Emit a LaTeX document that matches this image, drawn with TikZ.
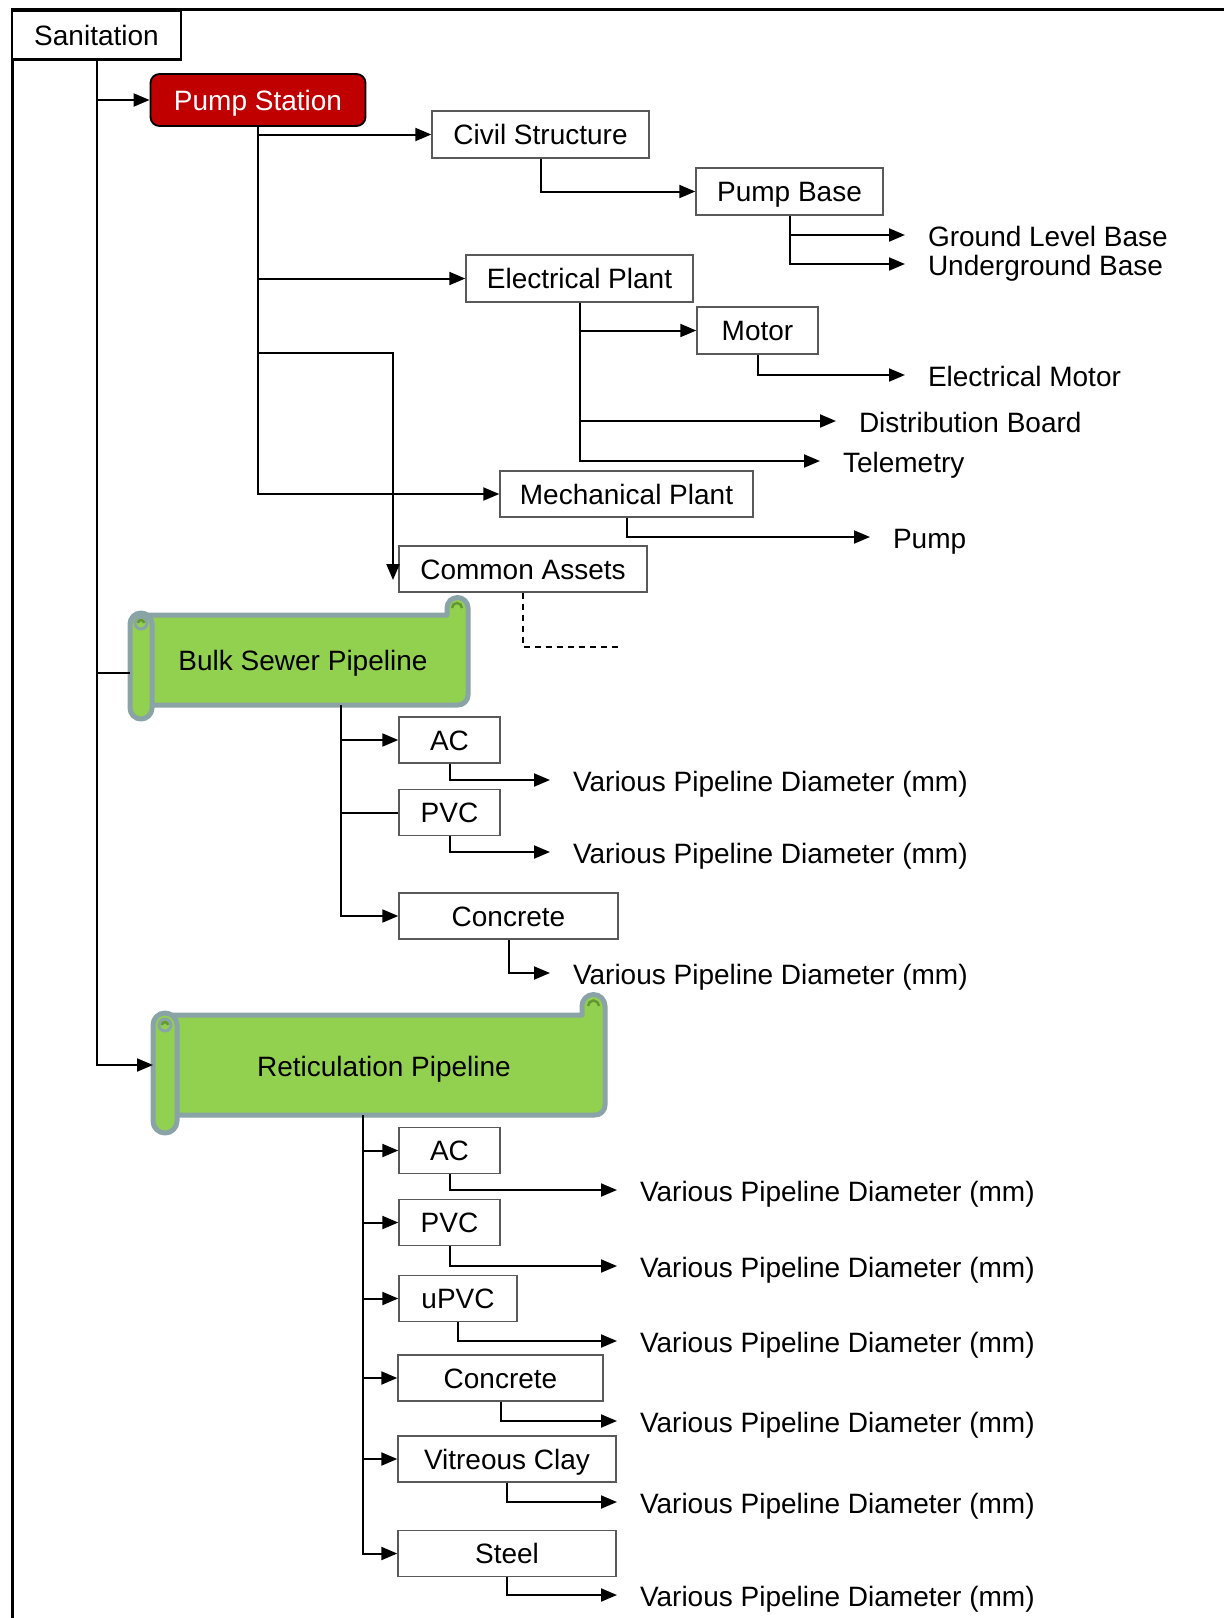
\documentclass[tikz,border=0pt]{standalone}
\usepackage{fontspec}
\setmainfont{Liberation Sans}
\usetikzlibrary{arrows.meta}
\definecolor{psred}{RGB}{192,0,0}
\definecolor{scrollgreen}{RGB}{146,208,80}
\definecolor{scrollrim}{RGB}{138,163,166}
\definecolor{curlgreen}{RGB}{100,150,50}
\begin{document}
\begin{tikzpicture}[x=1pt,y=-1pt,line width=2pt,
  every node/.style={font=\fontsize{28}{33}\selectfont},
  box/.style={draw=black!65,line width=1.4pt,fill=white,inner sep=0pt,minimum height=46pt,text height=20pt,text depth=0pt},
  leaf/.style={anchor=west,inner xsep=22pt,inner ysep=0pt,text height=22pt,text depth=0pt},
  arr/.style={-{Triangle[length=16pt,width=13pt]}},
  scroll/.style={draw=scrollrim,line width=5pt,fill=scrollgreen,line join=round},
  curl/.style={draw=curlgreen,line width=2.5pt}]
\useasboundingbox (0,0) rectangle (1224,1618);
\draw [line width=3pt] (12,1618)--(12,9)--(1224,9);
\draw [scroll] (141,615)--(447,615)--(447,608) arc[start angle=180,end angle=360,radius=10.5]--(468,695) arc[start angle=0,end angle=90,radius=10]--(141,705)--cycle;
\draw [scroll] (130,624)--(130,708) arc[start angle=180,end angle=0,radius=11]--(152,624) arc[start angle=0,end angle=-180,radius=11]--cycle;
\draw [scrollrim,line width=3pt] (141,623) circle[radius=6];
\draw [curl] (452,608) arc[start angle=180,end angle=360,radius=5];
\draw [curl] (138,623) arc[start angle=180,end angle=360,radius=3];
\draw [scroll] (165,1015)--(582,1015)--(582,1006) arc[start angle=180,end angle=360,radius=11.5]--(605,1105) arc[start angle=0,end angle=90,radius=10]--(165,1115)--cycle;
\draw [scroll] (153,1025)--(153,1121) arc[start angle=180,end angle=0,radius=12]--(177,1025) arc[start angle=0,end angle=-180,radius=12]--cycle;
\draw [scrollrim,line width=3pt] (165,1025) circle[radius=6];
\draw [curl] (588,1006) arc[start angle=180,end angle=360,radius=5.5];
\draw [curl] (162,1025) arc[start angle=180,end angle=360,radius=3];
\node [box,draw=black,line width=2.5pt,minimum width=169pt,minimum height=49pt] (san) at (96.5,35) {Sanitation};
\node [box,draw=black,line width=1.8pt,fill=psred,text=white,rounded corners=9pt,minimum width=215pt,minimum height=52pt] (ps) at (258,100) {Pump Station};
\node [box,minimum width=217pt,minimum height=47pt] (cs) at (540.5,134.5) {Civil Structure};
\node [box,minimum width=187pt,minimum height=47pt] (pb) at (789.5,191.5) {Pump Base};
\node [box,minimum width=227pt,minimum height=47pt] (ep) at (579.5,278.5) {Electrical Plant};
\node [box,minimum width=121pt,minimum height=47pt] (mot) at (757.5,330.5) {Motor};
\node [box,minimum width=253pt] (mp) at (626.5,494) {Mechanical Plant};
\node [box,minimum width=248pt] (ca) at (523,569) {Common Assets};
\node [leaf] (glb) at (905,235) {Ground Level Base};
\node [leaf] (ugb) at (905,264) {Underground Base};
\node [leaf] (em) at (905,375) {Electrical Motor};
\node [leaf] (db) at (836,421) {Distribution Board};
\node [leaf] (tel) at (820,461) {Telemetry};
\node [leaf] (pump) at (870,537) {Pump};
\node [text height=20pt,text depth=0pt] (bsp) at (303,660) {Bulk Sewer Pipeline};
\node [box,minimum width=101pt] (bac) at (449.5,740) {AC};
\node [box,minimum width=101pt] (bpvc) at (449.5,812.5) {PVC};
\node [box,minimum width=219pt] (bcon) at (508.5,916) {Concrete};
\node [leaf] (bacd) at (550,780) {Various Pipeline Diameter (mm)};
\node [leaf] (bpvcd) at (550,852) {Various Pipeline Diameter (mm)};
\node [leaf] (bcond) at (550,973) {Various Pipeline Diameter (mm)};
\node [text height=20pt,text depth=0pt] (rp) at (384,1066) {Reticulation Pipeline};
\node [box,minimum width=101pt] (rac) at (449.5,1150.5) {AC};
\node [box,minimum width=101pt] (rpvc) at (449.5,1222.5) {PVC};
\node [box,minimum width=118pt] (rupvc) at (458,1298.5) {uPVC};
\node [box,minimum width=205pt] (rcon) at (500.5,1378) {Concrete};
\node [box,minimum width=218pt] (rvc) at (507,1459) {Vitreous Clay};
\node [box,minimum width=218pt] (rst) at (507,1553.5) {Steel};
\node [leaf] (racd) at (617,1190) {Various Pipeline Diameter (mm)};
\node [leaf] (rpvcd) at (617,1266) {Various Pipeline Diameter (mm)};
\node [leaf] (rupvcd) at (617,1341) {Various Pipeline Diameter (mm)};
\node [leaf] (rcond) at (617,1421) {Various Pipeline Diameter (mm)};
\node [leaf] (rvcd) at (617,1502) {Various Pipeline Diameter (mm)};
\node [leaf] (rstd) at (617,1595) {Various Pipeline Diameter (mm)};
\coordinate (bspin) at (130,673);
\coordinate (rpin) at (153,1065);
\coordinate (cabend) at (393,353);
\coordinate (catip) at (393,580);
\coordinate (caend) at (618,647);
\coordinate (bspfoot) at (341,705);
\coordinate (rpfoot) at (363,1115);
\draw [arr] (san.south) |- (ps.west);
\draw (san.south) |- (bspin);
\draw [arr] (san.south) |- (rpin);
\draw [arr] (ps.south) |- (cs.west);
\draw [arr] (ps.south) |- (ep.west);
\draw [arr] (ps.south) |- (mp.west);
\draw [arr] (ps.south) |- (cabend)--(catip);
\draw [arr] (cs.south) |- (pb.west);
\draw [arr] (pb.south) |- (glb.west);
\draw [arr] (pb.south) |- (ugb.west);
\draw [arr] (ep.south) |- (mot.west);
\draw [arr] (ep.south) |- (db.west);
\draw [arr] (ep.south) |- (tel.west);
\draw [arr] (mot.south) |- (em.west);
\draw [arr] (mp.south) |- (pump.west);
\draw [dashed,dash pattern=on 6pt off 5pt] (ca.south) |- (caend);
\draw [arr] (bspfoot) |- (bac.west);
\draw (bspfoot) |- (bpvc.west);
\draw [arr] (bspfoot) |- (bcon.west);
\draw [arr] (bac.south) |- (bacd.west);
\draw [arr] (bpvc.south) |- (bpvcd.west);
\draw [arr] (bcon.south) |- (bcond.west);
\draw [arr] (rpfoot) |- (rac.west);
\draw [arr] (rpfoot) |- (rpvc.west);
\draw [arr] (rpfoot) |- (rupvc.west);
\draw [arr] (rpfoot) |- (rcon.west);
\draw [arr] (rpfoot) |- (rvc.west);
\draw [arr] (rpfoot) |- (rst.west);
\draw [arr] (rac.south) |- (racd.west);
\draw [arr] (rpvc.south) |- (rpvcd.west);
\draw [arr] (rupvc.south) |- (rupvcd.west);
\draw [arr] (rcon.south) |- (rcond.west);
\draw [arr] (rvc.south) |- (rvcd.west);
\draw [arr] (rst.south) |- (rstd.west);
\end{tikzpicture}
\end{document}
